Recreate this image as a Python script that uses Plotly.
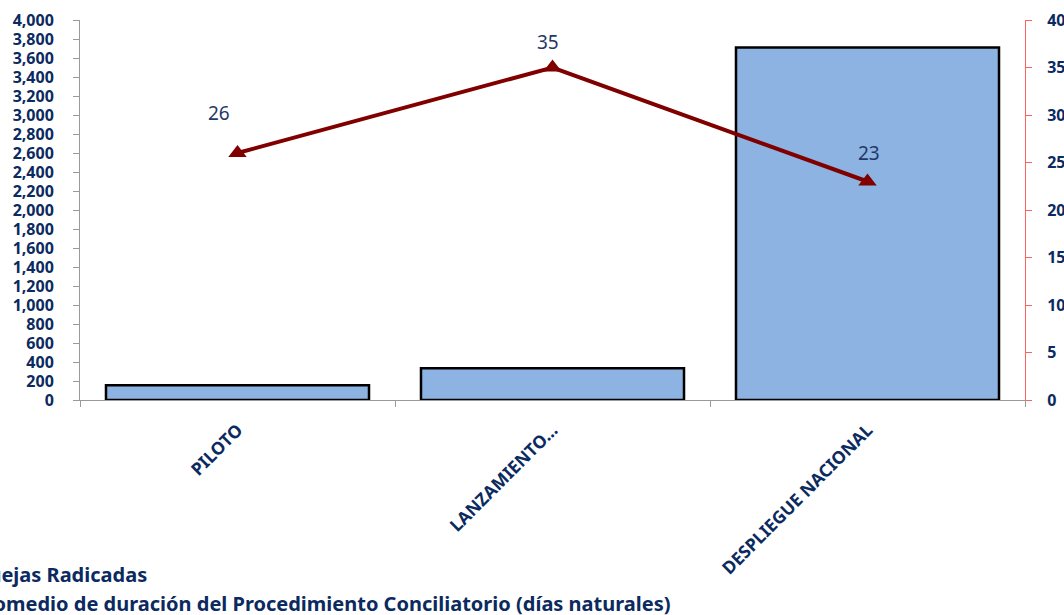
import plotly.graph_objects as go

categories = ["PILOTO", "LANZAMIENTO...", "DESPLIEGUE NACIONAL"]
quejas = [155, 335, 3710]
promedio = [26, 35, 23]
series_names = ["Quejas Radicadas",
                "Promedio de duración del Procedimiento Conciliatorio (días naturales)"]

NAVY = "#0B2A60"
FONT = "Noto Sans"

fig = go.Figure()
fig.add_trace(go.Bar(
    x=categories, y=quejas, name=series_names[0],
    marker=dict(color="#8DB3E2", line=dict(color="#000000", width=2.5)),
    yaxis="y", xaxis="x",
))
fig.add_trace(go.Scatter(
    x=categories, y=promedio, name=series_names[1], mode="lines+markers",
    line=dict(color="#800000", width=4),
    marker=dict(symbol="triangle-up", size=16, color="#800000"),
    yaxis="y2", xaxis="x",
))

# data labels for the line series
label_dx = [-19, -5, 1]
label_dy = [40, 26, 29]
for c, v, dx, dy in zip(categories, promedio, label_dx, label_dy):
    fig.add_annotation(x=c, y=v, xref="x", yref="y2", text=str(v), showarrow=False,
                       xshift=dx, yshift=dy,
                       font=dict(family=FONT, size=19, color="#1F3864"))

tickfont = dict(family=FONT, size=16, color=NAVY, weight="bold")

fig.update_layout(
    width=1064, height=615,
    margin=dict(l=80, r=39, t=20, b=215, autoexpand=False),
    paper_bgcolor="white", plot_bgcolor="white",
    bargap=0.165,
    showlegend=True,
    legend=dict(x=-0.156, xanchor="left", y=-0.408, yanchor="top",
                font=dict(family=FONT, size=20, color=NAVY, weight="bold"),
                bgcolor="rgba(0,0,0,0)", tracegroupgap=0, itemwidth=30),
    xaxis=dict(type="category", showgrid=False, showline=True, linecolor="#9A9A9A",
               linewidth=1, ticks="outside", ticklen=6, tickcolor="#9A9A9A",
               tickson="boundaries", tickangle=-45,
               tickfont=dict(family=FONT, size=17.5, color=NAVY, weight="bold"),
               ticklabelstandoff=12, automargin=False, zeroline=False),
    xaxis3=dict(overlaying="x", range=[-0.5, 2.5], tickmode="array", tickvals=[0.5, 1.5],
                ticks="inside", ticklen=6, tickcolor="#9A9A9A", showticklabels=False,
                showgrid=False, showline=False, zeroline=False, anchor="y"),
    yaxis=dict(range=[0, 4000], dtick=200, tickformat=",", showgrid=False, showline=True,
               linecolor="#9A9A9A", linewidth=1, ticks="outside", ticklen=6, tickcolor="#9A9A9A",
               tickfont=tickfont, ticklabelstandoff=16, automargin=False, zeroline=False),
    yaxis3=dict(overlaying="y", range=[0, 4000], dtick=200, ticks="inside", ticklen=6,
                tickcolor="#9A9A9A", showticklabels=False, showgrid=False, showline=False,
                zeroline=False, anchor="x"),
    yaxis2=dict(overlaying="y", side="right", range=[0, 40], dtick=5, showgrid=False,
                showline=True, linecolor="#FF6060", linewidth=1, ticks="outside", ticklen=6,
                tickcolor="#FF6060", tickfont=tickfont, ticklabelstandoff=12,
                automargin=False, zeroline=False, anchor="x"),
    yaxis4=dict(overlaying="y", side="right", range=[0, 40], dtick=5, ticks="inside", ticklen=6,
                tickcolor="#FF6060", showticklabels=False, showgrid=False, showline=False,
                zeroline=False, anchor="x"),
)

fig.write_html("out.html")
